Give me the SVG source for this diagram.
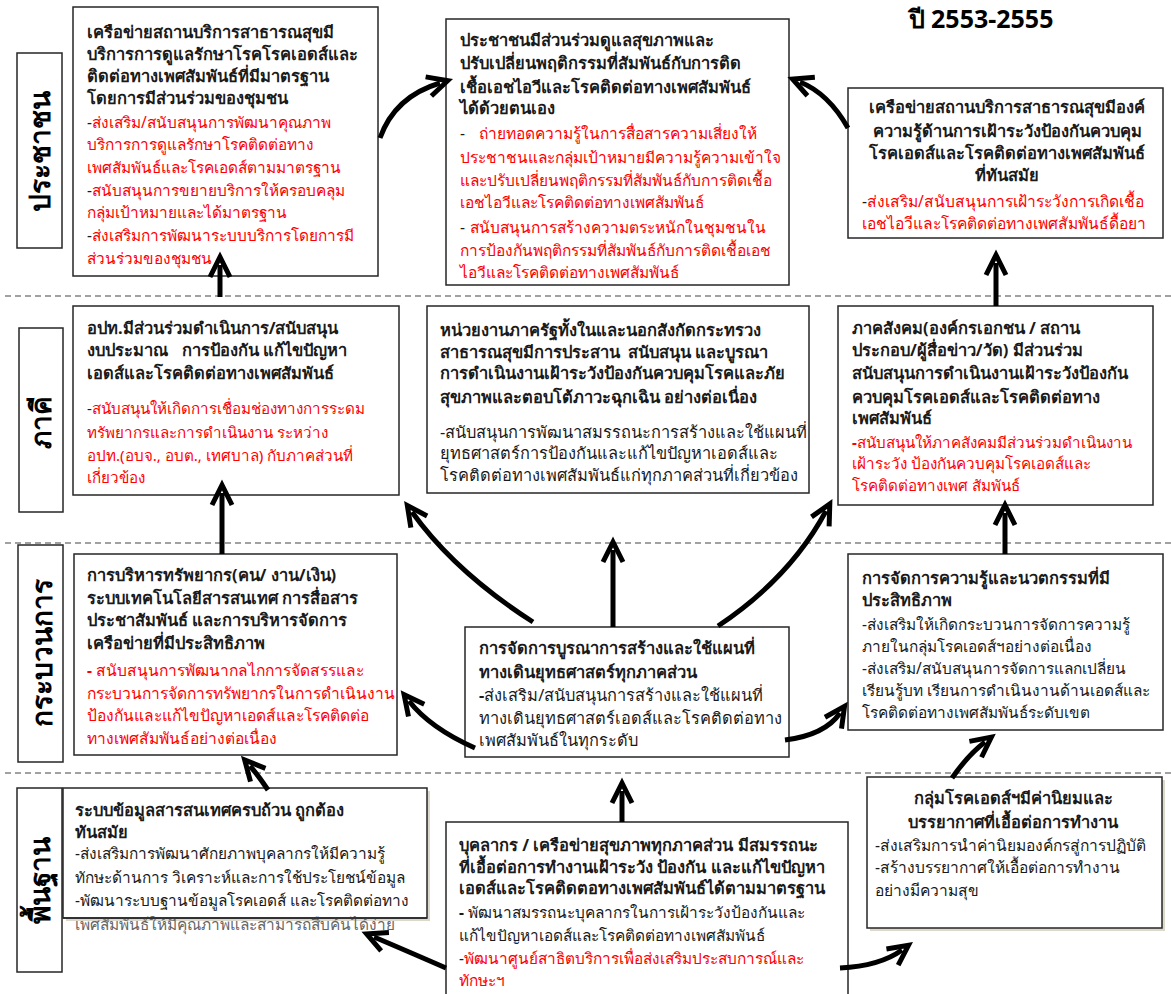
<svg xmlns="http://www.w3.org/2000/svg" width="1171" height="994" viewBox="0 0 1171 994">
<style>
.bx{fill:#fff;stroke:#262626;stroke-width:1.5}
.sh{fill:#dcd9cc}
.t{font-family:"Noto Sans","DejaVu Sans",sans-serif}
.b{font-weight:bold;fill:#1a1a1a;font-size:16.5px}
.k{fill:#1a1a1a}
.r{fill:#ff0000}
.g{fill:#666}
.c{text-anchor:middle}
.dl{stroke:#444;stroke-width:1.2;stroke-dasharray:6 4;fill:none}
.ar{fill:none;stroke:#000;stroke-width:5;marker-end:url(#ah)}
.lbl{font-family:"Noto Sans","DejaVu Sans",sans-serif;font-size:28px;font-weight:bold;fill:#000;text-anchor:middle}
.ttl{font-family:"Noto Sans","DejaVu Sans",sans-serif;font-size:25px;font-weight:bold;fill:#000;text-anchor:middle}
</style>
<defs>
<marker id="ah" markerUnits="userSpaceOnUse" viewBox="-16 -14 36 28" markerWidth="36" markerHeight="28" refX="0" refY="0" orient="auto" overflow="visible">
<path d="M-12,-10 L8,0 L-12,10" fill="none" stroke="#000" stroke-width="5" stroke-linejoin="miter"/>
</marker>
</defs>
<rect width="1171" height="994" fill="#fff"/>

<g id="bands">
<line class="dl" x1="5" y1="296" x2="1171" y2="296"/>
<line class="dl" x1="5" y1="543" x2="1171" y2="543"/>
<line class="dl" x1="5" y1="773" x2="1171" y2="773"/>
</g>

<text id="title" class="ttl" x="981" y="28">ปี 2553-2555</text>

<g id="label-people">
<rect class="bx" x="17" y="53" width="45" height="195"/>
<text class="lbl" transform="translate(50,151) rotate(-90)">ประชาชน</text>
</g>
<g id="label-partners">
<rect class="bx" x="19" y="328" width="44" height="184"/>
<text class="lbl" transform="translate(51,422) rotate(-90)">ภาคี</text>
</g>
<g id="label-process">
<rect class="bx" x="18" y="545" width="45" height="217"/>
<text class="lbl" transform="translate(52,653) rotate(-90)">กระบวนการ</text>
</g>
<g id="label-base">
<rect class="bx" x="17" y="788" width="45" height="184"/>
<text class="lbl" transform="translate(50,880) rotate(-90)">พื้นฐาน</text>
</g>

<g id="node-a" font-size="15.4">
<rect class="bx" x="73" y="7" width="305" height="269"/>
<text class="t b" x="87" y="38">เครือข่ายสถานบริการสาธารณสุขมี</text>
<text class="t b" x="87" y="60">บริการการดูแลรักษาโรคโรคเอดส์และ</text>
<text class="t b" x="87" y="82">ติดต่อทางเพศสัมพันธ์ที่มีมาตรฐาน</text>
<text class="t b" x="87" y="104">โดยการมีส่วนร่วมของชุมชน</text>
<text class="t r" x="87" y="128"><tspan class="k">-</tspan>ส่งเสริม/สนับสนุนการพัฒนาคุณภาพ</text>
<text class="t r" x="87" y="150">บริการการดูแลรักษาโรคติดต่อทาง</text>
<text class="t r" x="87" y="173">เพศสัมพันธ์และโรคเอดส์ตามมาตรฐาน</text>
<text class="t r" x="87" y="196"><tspan class="k">-</tspan>สนับสนุนการขยายบริการให้ครอบคลุม</text>
<text class="t r" x="87" y="218">กลุ่มเป้าหมายและได้มาตรฐาน</text>
<text class="t r" x="87" y="241"><tspan class="k">-</tspan>ส่งเสริมการพัฒนาระบบบริการโดยการมี</text>
<text class="t r" x="87" y="264">ส่วนร่วมของชุมชน</text>
</g>

<g id="node-b" font-size="15.5">
<rect class="bx" x="446" y="19" width="343" height="266"/>
<text class="t b" x="460" y="46">ประชาชนมีส่วนร่วมดูแลสุขภาพและ</text>
<text class="t b" x="460" y="69">ปรับเปลี่ยนพฤติกรรมที่สัมพันธ์กับการติด</text>
<text class="t b" x="460" y="93">เชื้อเอชไอวีและโรคติดต่อทางเพศสัมพันธ์</text>
<text class="t b" x="460" y="114">ได้ด้วยตนเอง</text>
<text class="t r" x="460" y="139"><tspan class="k">-</tspan><tspan dx="14">ถ่ายทอดความรู้ในการสื่อสารความเสี่ยงให้</tspan></text>
<text class="t r" x="460" y="163">ประชาชนและกลุ่มเป้าหมายมีความรู้ความเข้าใจ</text>
<text class="t r" x="460" y="186">และปรับเปลี่ยนพฤติกรรมที่สัมพันธ์กับการติดเชื้อ</text>
<text class="t r" x="460" y="208">เอชไอวีและโรคติดต่อทางเพศสัมพันธ์</text>
<text class="t r" x="460" y="233"><tspan class="k">-</tspan><tspan dx="5">สนับสนุนการสร้างความตระหนักในชุมชนใน</tspan></text>
<text class="t r" x="460" y="256">การป้องกันพฤติกรรมที่สัมพันธ์กับการติดเชื้อเอช</text>
<text class="t r" x="460" y="278">ไอวีและโรคติดต่อทางเพศสัมพันธ์</text>
</g>

<g id="node-c" font-size="15.6">
<rect class="bx" x="848" y="88" width="315" height="150"/>
<text class="t b c" x="1007" y="113">เครือข่ายสถานบริการสาธารณสุขมีองค์</text>
<text class="t b c" x="1007" y="137">ความรู้ด้านการเฝ้าระวังป้องกันควบคุม</text>
<text class="t b c" x="1007" y="159">โรคเอดส์และโรคติดต่อทางเพศสัมพันธ์</text>
<text class="t b c" x="1007" y="181">ที่ทันสมัย</text>
<text class="t r" x="862" y="207"><tspan class="k">-</tspan>ส่งเสริม/สนับสนุนการเฝ้าระวังการเกิดเชื้อ</text>
<text class="t r" x="862" y="229">เอชไอวีและโรคติดต่อทางเพศสัมพันธ์ดื้อยา</text>
</g>

<g id="node-d" font-size="15.2">
<rect class="bx" x="73" y="306" width="326" height="189"/>
<text class="t b" x="87" y="334">อปท.มีส่วนร่วมดำเนินการ/สนับสนุน</text>
<text class="t b" x="87" y="356">งบประมาณ<tspan dx="14">การป้องกัน แก้ไขปัญหา</tspan></text>
<text class="t b" x="87" y="379">เอดส์และโรคติดต่อทางเพศสัมพันธ์</text>
<text class="t r" x="87" y="414"><tspan class="k">-</tspan>สนับสนุนให้เกิดการเชื่อมช่องทางการระดม</text>
<text class="t r" x="87" y="438">ทรัพยากรและการดำเนินงาน ระหว่าง</text>
<text class="t r" x="87" y="461">อปท.(อบจ., อบต., เทศบาล) กับภาคส่วนที่</text>
<text class="t r" x="87" y="483">เกี่ยวข้อง</text>
</g>

<g id="node-e" font-size="16.4">
<rect class="bx" x="427" y="306" width="382" height="187"/>
<text class="t b" x="440" y="336">หน่วยงานภาครัฐทั้งในและนอกสังกัดกระทรวง</text>
<text class="t b" x="440" y="358">สาธารณสุขมีการประสาน<tspan dx="8">สนับสนุน และบูรณา</tspan></text>
<text class="t b" x="440" y="379">การดำเนินงานเฝ้าระวังป้องกันควบคุมโรคและภัย</text>
<text class="t b" x="440" y="403">สุขภาพและตอบโต้ภาวะฉุกเฉิน อย่างต่อเนื่อง</text>
<text class="t k" x="440" y="438">-สนับสนุนการพัฒนาสมรรถนะการสร้างและใช้แผนที่</text>
<text class="t k" x="440" y="459">ยุทธศาสตร์การป้องกันและแก้ไขปัญหาเอดส์และ</text>
<text class="t k" x="440" y="481">โรคติดต่อทางเพศสัมพันธ์แก่ทุกภาคส่วนที่เกี่ยวข้อง</text>
</g>

<g id="node-f" font-size="15.2">
<rect class="bx" x="838" y="306" width="315" height="199"/>
<text class="t b" x="852" y="334">ภาคสังคม(องค์กรเอกชน / สถาน</text>
<text class="t b" x="852" y="356">ประกอบ/ผู้สื่อข่าว/วัด) มีส่วนร่วม</text>
<text class="t b" x="852" y="379">สนับสนุนการดำเนินงานเฝ้าระวังป้องกัน</text>
<text class="t b" x="852" y="403">ควบคุมโรคเอดส์และโรคติดต่อทาง</text>
<text class="t b" x="852" y="424">เพศสัมพันธ์</text>
<text class="t r" x="852" y="448"><tspan font-weight="bold">-</tspan>สนับสนุนให้ภาคสังคมมีส่วนร่วมดำเนินงาน</text>
<text class="t r" x="852" y="469">เฝ้าระวัง ป้องกันควบคุมโรคเอดส์และ</text>
<text class="t r" x="852" y="491">โรคติดต่อทางเพศ สัมพันธ์</text>
</g>

<g id="node-g" font-size="15.6">
<rect class="bx" x="74" y="554" width="323" height="201"/>
<text class="t b" x="87" y="581">การบริหารทรัพยากร(คน/ งาน/เงิน)</text>
<text class="t b" x="87" y="604">ระบบเทคโนโลยีสารสนเทศ การสื่อสาร</text>
<text class="t b" x="87" y="626">ประชาสัมพันธ์ และการบริหารจัดการ</text>
<text class="t b" x="87" y="649">เครือข่ายที่มีประสิทธิภาพ</text>
<text class="t r" x="87" y="676"><tspan font-weight="bold">-</tspan> สนับสนุนการพัฒนากลไกการจัดสรรและ</text>
<text class="t r" x="87" y="699">กระบวนการจัดการทรัพยากรในการดำเนินงาน</text>
<text class="t r" x="87" y="721">ป้องกันและแก้ไขปัญหาเอดส์และโรคติดต่อ</text>
<text class="t r" x="87" y="744">ทางเพศสัมพันธ์อย่างต่อเนื่อง</text>
</g>

<g id="node-h" font-size="16.4">
<rect class="bx" x="465" y="627" width="324" height="130"/>
<text class="t b" x="479" y="654">การจัดการบูรณาการสร้างและใช้แผนที่</text>
<text class="t b" x="479" y="678">ทางเดินยุทธศาสตร์ทุกภาคส่วน</text>
<text class="t k" x="479" y="701"><tspan font-weight="bold">-</tspan>ส่งเสริม/สนับสนุนการสร้างและใช้แผนที่</text>
<text class="t k" x="479" y="724">ทางเดินยุทธศาสตร์เอดส์และโรคติดต่อทาง</text>
<text class="t k" x="479" y="746">เพศสัมพันธ์ในทุกระดับ</text>
</g>

<g id="node-i" font-size="15.4">
<rect class="bx" x="848" y="554" width="315" height="176"/>
<text class="t b" x="862" y="584">การจัดการความรู้และนวตกรรมที่มี</text>
<text class="t b" x="862" y="606">ประสิทธิภาพ</text>
<text class="t k" x="862" y="630">-ส่งเสริมให้เกิดกระบวนการจัดการความรู้</text>
<text class="t k" x="862" y="652">ภายในกลุ่มโรคเอดส์ฯอย่างต่อเนื่อง</text>
<text class="t k" x="862" y="674">-ส่งเสริม/สนับสนุนการจัดการแลกเปลี่ยน</text>
<text class="t k" x="862" y="696">เรียนรู้บท เรียนการดำเนินงานด้านเอดส์และ</text>
<text class="t k" x="862" y="718">โรคติดต่อทางเพศสัมพันธ์ระดับเขต</text>
</g>

<g id="node-j" font-size="15.4">
<rect class="sh" x="66" y="791" width="364" height="130"/>
<rect class="bx" x="63" y="788" width="364" height="130"/>
<text class="t g" x="75" y="930">เพศสัมพันธ์ให้มีคุณภาพและสามารถสืบค้นได้ง่าย</text>
<line x1="63" y1="918" x2="427" y2="918" stroke="#262626" stroke-width="1.5"/>
<text class="t b" x="75" y="816">ระบบข้อมูลสารสนเทศครบถ้วน ถูกต้อง</text>
<text class="t b" x="75" y="838">ทันสมัย</text>
<text class="t k" x="75" y="859">-ส่งเสริมการพัฒนาศักยภาพบุคลากรให้มีความรู้</text>
<text class="t k" x="75" y="883">ทักษะด้านการ วิเคราะห์และการใช้ประโยชน์ข้อมูล</text>
<text class="t k" x="75" y="906">-พัฒนาระบบฐานข้อมูลโรคเอดส์ และโรคติดต่อทาง</text>
</g>

<g id="node-k" font-size="15.4">
<rect class="bx" x="446" y="822" width="402" height="180"/>
<text class="t b" x="459" y="851">บุคลากร / เครือข่ายสุขภาพทุกภาคส่วน มีสมรรถนะ</text>
<text class="t b" x="459" y="873">ที่เอื้อต่อการทำงานเฝ้าระวัง ป้องกัน และแก้ไขปัญหา</text>
<text class="t b" x="459" y="894">เอดส์และโรคติดตอทางเพศสัมพันธ์ได้ตามมาตรฐาน</text>
<text class="t k" x="459" y="918"><tspan font-weight="bold">-</tspan> พัฒนาสมรรถนะบุคลากรในการเฝ้าระวังป้องกันและ</text>
<text class="t k" x="459" y="941">แก้ไขปัญหาเอดส์และโรคติดต่อทางเพศสัมพันธ์</text>
<text class="t r" x="459" y="964"><tspan class="k">-</tspan>พัฒนาศูนย์สาธิตบริการเพื่อส่งเสริมประสบการณ์และ</text>
<text class="t r" x="459" y="986">ทักษะฯ</text>
</g>

<g id="node-l" font-size="15.6">
<rect class="sh" x="870" y="780" width="295" height="151"/>
<rect class="bx" x="867" y="777" width="295" height="151"/>
<text class="t b c" x="1013" y="804">กลุ่มโรคเอดส์ฯมีค่านิยมและ</text>
<text class="t b c" x="1013" y="828">บรรยากาศที่เอื้อต่อการทำงาน</text>
<text class="t k" x="875" y="851">-ส่งเสริมการนำค่านิยมองค์กรสู่การปฏิบัติ</text>
<text class="t k" x="875" y="873">-สร้างบรรยากาศให้เอื้อต่อการทำงาน</text>
<text class="t k" x="875" y="896">อย่างมีความสุข</text>
</g>

<g id="connectors">
<path class="ar" d="M220,297 L220,265"/>
<path class="ar" d="M222,554 L222,493"/>
<path class="ar" d="M380,138 C390,110 410,92 440,83"/>
<path class="ar" d="M848,128 C835,105 820,90 800,82"/>
<path class="ar" d="M996,306 L996,263"/>
<path class="ar" d="M1005,554 L1005,513"/>
<path class="ar" d="M613,627 L613,550"/>
<path class="ar" d="M533,622 Q455,572 412,512"/>
<path class="ar" d="M718,626 Q790,578 826,511"/>
<path class="ar" d="M475,748 Q430,728 409,701"/>
<path class="ar" d="M785,740 Q825,735 840,713"/>
<path class="ar" d="M622,822 L622,791"/>
<path class="ar" d="M446,968 Q400,948 374,937"/>
<path class="ar" d="M268,790 Q258,775 250,766"/>
<path class="ar" d="M840,968 Q880,966 902,950"/>
<path class="ar" d="M952,778 Q968,755 985,742"/>
</g>
</svg>
